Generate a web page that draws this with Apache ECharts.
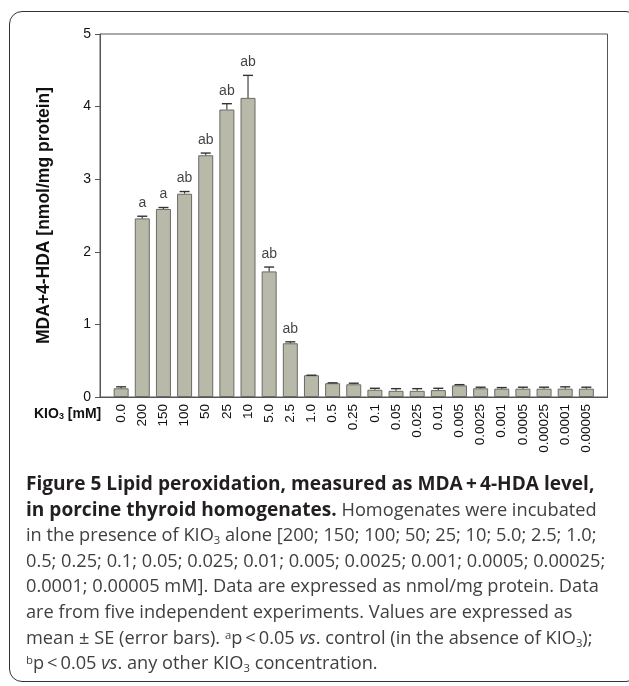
<!DOCTYPE html>
<html>
<head>
<meta charset="utf-8">
<script src="https://cdn.jsdelivr.net/npm/echarts@6/dist/echarts.min.js"></script>
<style>
  html, body { margin: 0; padding: 0; background: #fff; }
  #wrap { position: relative; width: 629px; height: 686px; overflow: hidden; }
  #chart { position: absolute; left: 0; top: 0; width: 629px; height: 686px; }
  #frame { position: absolute; left: 9px; top: 11px; width: 630px; height: 671px;
           border: 1.5px solid #333; border-radius: 13px; box-sizing: border-box; pointer-events: none; }
  .cap { position: absolute; left: 26px; white-space: nowrap; font-family: "Open Sans", sans-serif;
         font-size: 18px; color: #404040; line-height: 26px; height: 26px; }
  .cap b { color: #231f20; font-weight: 700; }
  .cap sub, .cap sup { font-size: 0.62em; line-height: 0; }
  .cap sub { vertical-align: -0.25em; }
  .cap sup { vertical-align: 0.45em; }
</style>
</head>
<body>
<div id="wrap">
  <div id="chart"></div>
  <div id="frame"></div>
  <div id="caption"></div>
</div>
<script>
const categories = ['0.0','200','150','100','50','25','10','5.0','2.5','1.0','0.5','0.25','0.1','0.05','0.025','0.01','0.005','0.0025','0.001','0.0005','0.00025','0.0001','0.00005'];
const means  = [0.12, 2.46, 2.59, 2.80, 3.33, 3.96, 4.12, 1.73, 0.74, 0.30, 0.19, 0.175, 0.10, 0.085, 0.085, 0.095, 0.16, 0.12, 0.115, 0.115, 0.115, 0.115, 0.115];
const errors = [0.02, 0.03, 0.02, 0.03, 0.03, 0.08, 0.31, 0.06, 0.02, 0.0, 0.005, 0.015, 0.02, 0.03, 0.03, 0.025, 0.01, 0.015, 0.015, 0.02, 0.02, 0.025, 0.02];
const letters = ['', 'a', 'a', 'ab', 'ab', 'ab', 'ab', 'ab', 'ab', '', '', '', '', '', '', '', '', '', '', '', '', '', ''];
const yTicks = [0, 1, 2, 3, 4, 5];
const yTitle = 'MDA+4-HDA [nmol/mg protein]';

const captionLines = [
  '<b>Figure 5 Lipid peroxidation, measured as MDA\u2009+\u20094-HDA level,</b>',
  '<b>in porcine thyroid homogenates.</b> Homogenates were incubated',
  'in the presence of KIO<sub>3</sub> alone [200; 150; 100; 50; 25; 10; 5.0; 2.5; 1.0;',
  '0.5; 0.25; 0.1; 0.05; 0.025; 0.01; 0.005; 0.0025; 0.001; 0.0005; 0.00025;',
  '0.0001; 0.00005 mM]. Data are expressed as nmol/mg protein. Data',
  'are from five independent experiments. Values are expressed as',
  'mean \u00b1 SE (error bars). <sup>a</sup>p\u2009<\u20090.05 <i>vs</i>. control (in the absence of KIO<sub>3</sub>);',
  '<sup>b</sup>p\u2009<\u20090.05 <i>vs</i>. any other KIO<sub>3</sub> concentration.'
];

const cap = document.getElementById('caption');
const capDivs = captionLines.map((html, i) => {
  const d = document.createElement('div');
  d.className = 'cap';
  d.style.top = (470 + i * 25.6) + 'px';
  d.innerHTML = html;
  cap.appendChild(d);
  return d;
});
// fit font sizes: bold line 1 to ~569px, regular line 3 to ~571px
function fit(div, target) {
  const w = div.getBoundingClientRect().width;
  return 18 * target / w;
}
const boldSize = fit(capDivs[0], 569);
const regSize = fit(capDivs[2], 571);
capDivs.forEach(d => {
  d.style.fontSize = regSize + 'px';
  d.querySelectorAll('b').forEach(b => { b.style.fontSize = (boldSize / regSize) + 'em'; });
});

const chart = echarts.init(document.getElementById('chart'), null, { renderer: 'canvas' });
const barData = means.map((v, i) => [i, v]);
const errData = means.map((v, i) => [i, v, v + errors[i]]);
const letterData = means.map((v, i) => [i, v + errors[i], letters[i]]).filter(d => d[2]);

const option = {
  animation: false,
  grid: { left: 100, right: 21.5, top: 34, bottom: 289, show: true, borderColor: '#555', borderWidth: 1, backgroundColor: 'transparent' },
  xAxis: {
    type: 'value', min: -1, max: 23, interval: 1,
    axisLine: { show: true, onZero: false, lineStyle: { color: '#555', width: 1 } },
    axisTick: { show: false },
    splitLine: { show: false },
    axisLabel: {
      rotate: 90, margin: 7, fontFamily: 'Liberation Sans, Arial', fontSize: 13.5, color: '#111',
      formatter: v => (v >= 0 && v < categories.length && Number.isInteger(v)) ? categories[v] : ''
    }
  },
  yAxis: {
    type: 'value', min: 0, max: 5, interval: 1,
    name: yTitle, nameLocation: 'middle', nameGap: 47, nameRotate: 90,
    nameTextStyle: { fontFamily: 'Liberation Sans, Arial', fontWeight: 'bold', fontSize: 17.5, color: '#111' },
    axisLine: { show: true, onZero: false, lineStyle: { color: '#555', width: 1 } },
    axisTick: { show: true, inside: false, length: 5, lineStyle: { color: '#555' } },
    splitLine: { show: false },
    axisLabel: { margin: 9, fontFamily: 'Liberation Sans, Arial', fontSize: 14, color: '#111',
                 formatter: v => yTicks.includes(v) ? String(v) : '' }
  },
  graphic: [{
    type: 'text', left: 34, top: 407,
    style: {
      text: '{b|KIO}{s|3}{b| [mM]}',
      rich: {
        b: { fontFamily: 'Liberation Sans, Arial', fontWeight: 'bold', fontSize: 14, fill: '#111' },
        s: { fontFamily: 'Liberation Sans, Arial', fontWeight: 'bold', fontSize: 9, fill: '#111', padding: [6, 0, 0, 0] }
      }
    }
  }],
  series: [
    {
      type: 'bar', data: barData, barWidth: 15,
      itemStyle: { color: '#b8b9a8', borderColor: '#6a6a66', borderWidth: 1 },
      z: 2
    },
    {
      type: 'custom', data: errData, z: 3,
      renderItem: (params, api) => {
        const x = api.value(0);
        const p0 = api.coord([x, api.value(1)]);
        const p1 = api.coord([x, api.value(2)]);
        const hw = 5;
        return {
          type: 'group',
          children: [
            { type: 'line', shape: { x1: p0[0], y1: p0[1], x2: p1[0], y2: p1[1] }, style: { stroke: '#444', lineWidth: 1.2 } },
            { type: 'line', shape: { x1: p1[0] - hw, y1: p1[1], x2: p1[0] + hw, y2: p1[1] }, style: { stroke: '#333', lineWidth: 1.4 } }
          ]
        };
      }
    },
    {
      type: 'scatter', data: letterData, symbolSize: 0, z: 4,
      label: {
        show: true, position: 'top', distance: 6,
        formatter: p => p.value[2],
        fontFamily: 'Liberation Sans, Arial', fontSize: 14, color: '#111'
      }
    }
  ]
};
chart.setOption(option);
</script>
</body>
</html>
